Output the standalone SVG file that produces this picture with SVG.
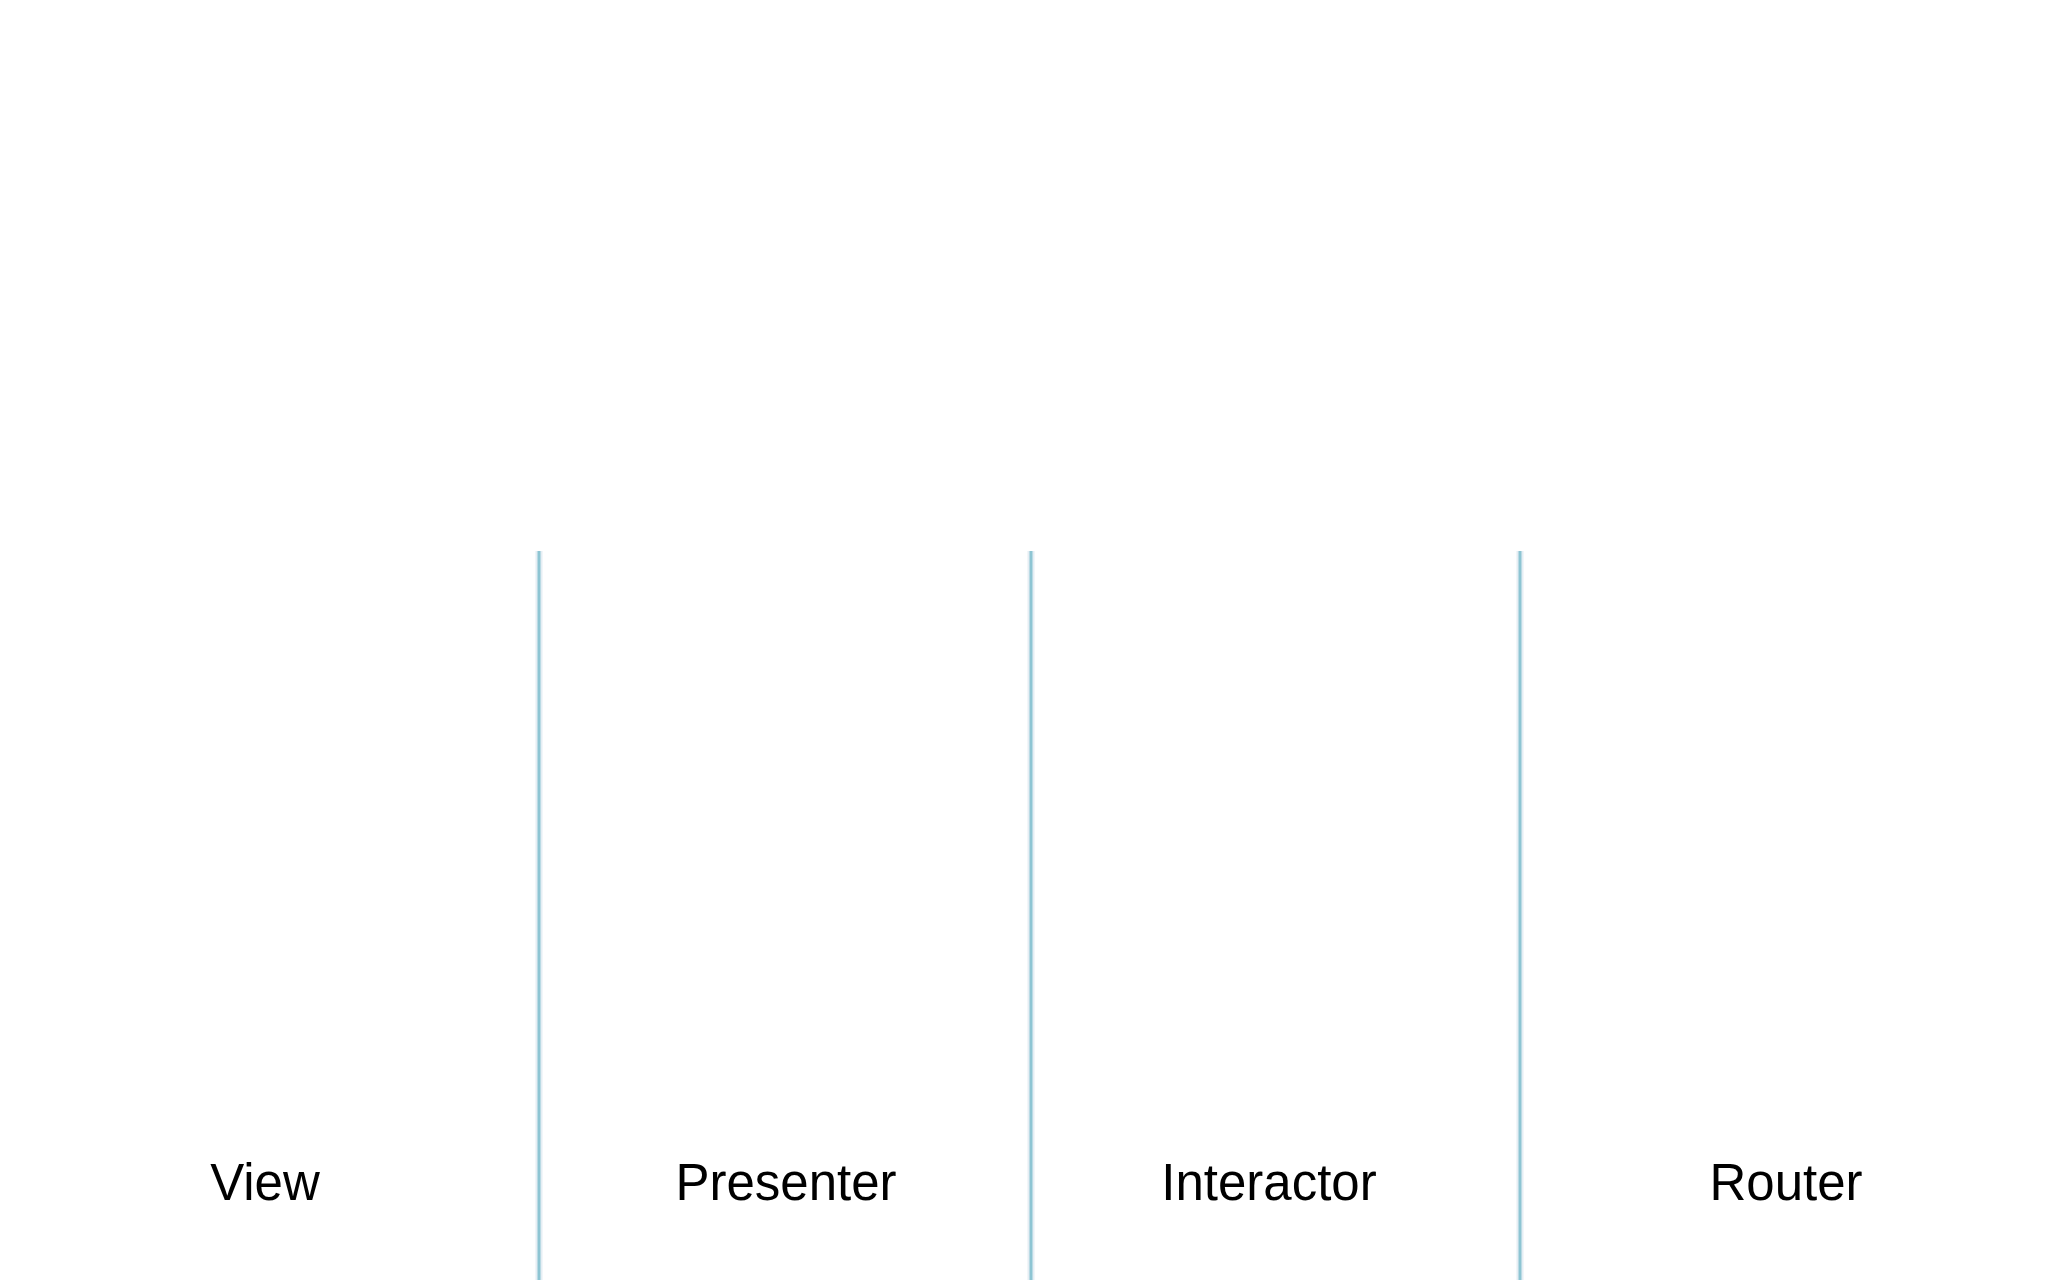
<svg xmlns="http://www.w3.org/2000/svg" width="2048" height="1280" viewBox="0 0 2048 1280">
<style>
.sep{stroke:#8dc5d3;stroke-width:3;fill:none}
.glow{stroke:#e6eef4;stroke-width:7;fill:none}
.lbl{font-family:"Liberation Sans",Arial,sans-serif;font-size:51px;fill:#000;text-anchor:middle}
</style>
<rect width="2048" height="1280" fill="#fff"/>
<g id="connectors">
<line class="glow" x1="539" y1="551" x2="539" y2="1280"/>
<line class="glow" x1="1031" y1="551" x2="1031" y2="1280"/>
<line class="glow" x1="1520" y1="551" x2="1520" y2="1280"/>
<line class="sep" x1="539" y1="551" x2="539" y2="1280"/>
<line class="sep" x1="1031" y1="551" x2="1031" y2="1280"/>
<line class="sep" x1="1520" y1="551" x2="1520" y2="1280"/>
</g>
<g id="view"><text class="lbl" x="265" y="1200">View</text></g>
<g id="presenter"><text class="lbl" x="786" y="1200">Presenter</text></g>
<g id="interactor"><text class="lbl" x="1269" y="1200">Interactor</text></g>
<g id="router"><text class="lbl" x="1786" y="1200">Router</text></g>
</svg>
